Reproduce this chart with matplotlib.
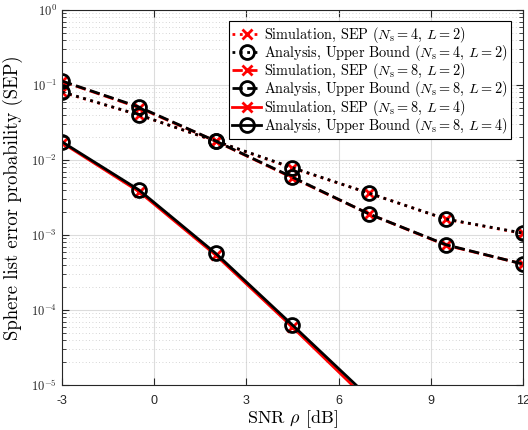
import matplotlib.pyplot as plt
from matplotlib.ticker import LogLocator, NullFormatter

plt.rcParams['mathtext.fontset'] = 'cm'
plt.rcParams['font.family'] = ['Liberation Sans', 'DejaVu Sans']

snr = [-3, -0.5, 2, 4.5, 7, 9.5, 12]

sim_4_2 = [0.080, 0.040, 0.0178, 0.0078, 0.0036, 0.00162, 0.00105]
ana_4_2 = [0.081, 0.040, 0.0179, 0.0079, 0.0036, 0.00163, 0.00106]
sim_8_2 = [0.112, 0.050, 0.0178, 0.0058, 0.0019, 0.00073, 0.00041]
ana_8_2 = [0.113, 0.051, 0.0179, 0.0059, 0.0019, 0.00074, 0.00041]
sim_8_4 = [0.0170, 0.0038, 0.00054, 5.9e-05, 6.0e-06, 4.0e-07, 2.0e-08]
ana_8_4 = [0.0175, 0.0040, 0.00057, 6.3e-05, 6.8e-06, 4.6e-07, 2.4e-08]

labels = [
    r'Simulation, SEP ($N_\mathrm{s}=4$, $L=2$)',
    r'Analysis, Upper Bound ($N_\mathrm{s}=4$, $L=2$)',
    r'Simulation, SEP ($N_\mathrm{s}=8$, $L=2$)',
    r'Analysis, Upper Bound ($N_\mathrm{s}=8$, $L=2$)',
    r'Simulation, SEP ($N_\mathrm{s}=8$, $L=4$)',
    r'Analysis, Upper Bound ($N_\mathrm{s}=8$, $L=4$)',
]

fig = plt.figure(figsize=(5.28, 4.30), dpi=100)
ax = fig.add_axes([0.1174, 0.1047, 0.873, 0.872])

sim_kw = dict(color='red', lw=2, marker='x', markersize=7, markeredgewidth=2)
ana_kw = dict(color='black', lw=2, marker='o', markersize=10, markerfacecolor='none',
              markeredgewidth=2)

h1, = ax.semilogy(snr, sim_4_2, ls=':', label=labels[0], **sim_kw)
h3, = ax.semilogy(snr, sim_8_2, ls='--', label=labels[2], **sim_kw)
h5, = ax.semilogy(snr, sim_8_4, ls='-', label=labels[4], **sim_kw)
h2, = ax.semilogy(snr, ana_4_2, ls=':', label=labels[1], **ana_kw)
h4, = ax.semilogy(snr, ana_8_2, ls='--', label=labels[3], **ana_kw)
h6, = ax.semilogy(snr, ana_8_4, ls='-', label=labels[5], **ana_kw)

ax.set_xlim(-3, 12)
ax.set_ylim(1e-5, 1)
ax.set_xticks([-3, 0, 3, 6, 9, 12])
ax.set_xticklabels(['-3', '0', '3', '6', '9', '12'])
ax.set_yticks([1e-5, 1e-4, 1e-3, 1e-2, 1e-1, 1])
ax.set_yticklabels([r'$\mathsf{10^{-5}}$', r'$\mathsf{10^{-4}}$', r'$\mathsf{10^{-3}}$',
                    r'$\mathsf{10^{-2}}$', r'$\mathsf{10^{-1}}$', r'$\mathsf{10^{0}}$'])
ax.yaxis.set_minor_locator(LogLocator(base=10, subs=range(2, 10), numticks=20))
ax.yaxis.set_minor_formatter(NullFormatter())

ax.tick_params(which='both', direction='in', top=True, right=True, colors='#262626',
               labelsize=9)
ax.tick_params(axis='x', pad=7)
ax.tick_params(which='major', length=5)
ax.tick_params(which='minor', length=3)
for s in ax.spines.values():
    s.set_color('#262626')
    s.set_linewidth(0.8)

ax.grid(True, which='major', color='#dcdcdc', lw=0.8, ls='-')
ax.grid(True, which='minor', axis='y', color='#c8c8c8', lw=0.6, ls=(0, (1, 3)))
ax.set_axisbelow(True)

ax.set_xlabel(r'SNR $\rho$ [dB]', fontsize=13, labelpad=1, family='cmr10')
ax.set_ylabel('Sphere list error probability (SEP)', fontsize=13.5, labelpad=6,
              family='cmr10')

leg = ax.legend([h1, h2, h3, h4, h5, h6], labels, loc='upper right',
                prop={'family': 'cmr10', 'size': 10.3},
                handlelength=2.0, handletextpad=0.25, labelspacing=-0.13, borderpad=0.25,
                borderaxespad=0.8, fancybox=False, framealpha=1)
leg.get_frame().set_edgecolor('black')
leg.get_frame().set_linewidth(0.8)

plt.savefig('out.png', dpi=100)
